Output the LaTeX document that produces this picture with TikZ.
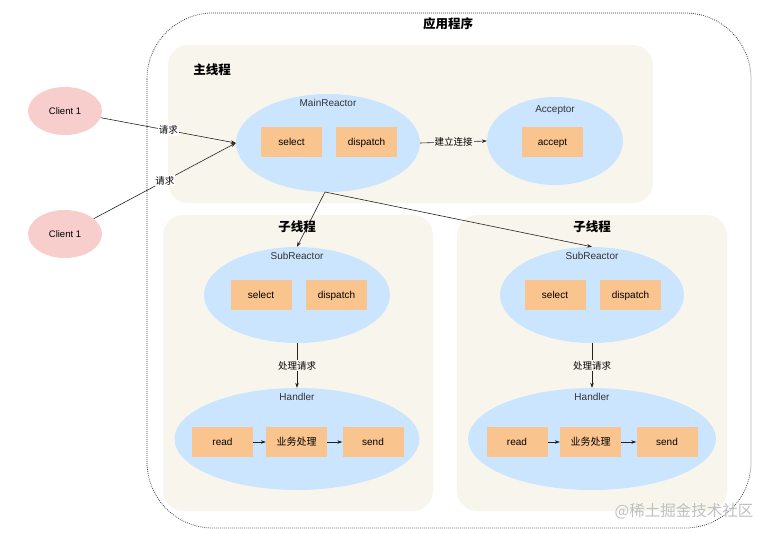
\documentclass[tikz,border=0pt]{standalone}
\usepackage{fontspec}
\setmainfont{Liberation Sans}
\newfontfamily\cjk{Noto Sans CJK SC}
\usetikzlibrary{arrows.meta,shapes.geometric}
\definecolor{beige}{HTML}{F8F6EC}
\definecolor{pinkc}{HTML}{F8CECC}
\definecolor{bluec}{HTML}{CCE5FF}
\definecolor{orangec}{HTML}{FAC48F}
\definecolor{txt}{HTML}{222222}
\definecolor{captxt}{HTML}{333333}
\tikzset{
  area/.style={fill=beige, draw=none, rounded corners=20pt},
  client/.style={ellipse, fill=pinkc, draw=none, minimum width=74pt, minimum height=48pt, inner sep=0pt, font=\fontsize{9.5}{11}\selectfont, text height=8pt, text depth=1pt},
  reactor/.style={ellipse, fill=bluec, draw=none, inner sep=0pt},
  opbox/.style={rectangle, fill=orangec, draw=none, minimum width=61pt, minimum height=30pt, inner sep=0pt, font=\fontsize{10}{12}\selectfont, text height=8.5pt, text depth=1pt},
  caplbl/.style={font=\fontsize{10}{12}\selectfont, text=captxt, inner sep=0pt},
  title/.style={font=\cjk\bfseries\fontsize{12.5}{14}\selectfont, inner sep=0pt},
  conn/.style={draw=txt, line width=0.6pt, -{Stealth[length=5pt,width=3.5pt]}},
  elabel/.style={font=\cjk\fontsize{9.5}{11}\selectfont, inner sep=1pt},
}
\begin{document}
\begin{tikzpicture}[x=1pt,y=-1pt]
\useasboundingbox (0,0) rectangle (774,536);
% outer container
\draw[dash pattern=on 0.8pt off 1.2pt, draw=black!80, line width=0.75pt, rounded corners=66pt] (147,13) rectangle (751,528);
\node[title] (apptitle) at (448,24) {应用程序};
% thread areas
\fill[area] (168,45) rectangle (653,203);
\fill[area] (163,215) rectangle (433,511);
\fill[area] (457,215) rectangle (727,511);
\node[title] (maintitle) at (212,70) {主线程};
\node[title] (subtitleL) at (297,227) {子线程};
\node[title] (subtitleR) at (592,227) {子线程};
% clients
\node[client] (c1) at (65,111) {Client 1};
\node[client] (c2) at (65,234) {Client 1};
% main reactor
\node[reactor, minimum width=184pt, minimum height=98pt] (main) at (328,143) {};
\node[caplbl] (mainlbl) at (328,103) {MainReactor};
\node[opbox] (msel) at (291.5,142) {select};
\node[opbox] (mdis) at (366.5,142) {dispatch};
% acceptor
\node[reactor, minimum width=136pt, minimum height=88pt] (acc) at (555,141) {};
\node[caplbl] (acclbl) at (555,110) {Acceptor};
\node[opbox] (acpt) at (552.5,142) {accept};
% left sub
\node[reactor, minimum width=186pt, minimum height=96pt] (subL) at (297,295) {};
\node[caplbl] (subLlbl) at (297,256) {SubReactor};
\node[opbox] (sselL) at (261,295) {select};
\node[opbox] (sdisL) at (336.5,295) {dispatch};
\node[reactor, minimum width=245pt, minimum height=102pt] (hL) at (297,439) {};
\node[caplbl] (hLlbl) at (297,397) {Handler};
\node[opbox] (readL) at (222.5,442) {read};
\node[opbox, font=\cjk\fontsize{10}{12}\selectfont] (bizL) at (296.5,442) {业务处理};
\node[opbox] (sendL) at (373,442) {send};
% right sub
\node[reactor, minimum width=184pt, minimum height=96pt] (subR) at (592,295) {};
\node[caplbl] (subRlbl) at (592,256) {SubReactor};
\node[opbox] (sselR) at (555,295) {select};
\node[opbox] (sdisR) at (630.5,295) {dispatch};
\node[reactor, minimum width=248pt, minimum height=102pt] (hR) at (592,439) {};
\node[caplbl] (hRlbl) at (592,397) {Handler};
\node[opbox] (readR) at (517,442) {read};
\node[opbox, font=\cjk\fontsize{10}{12}\selectfont] (bizR) at (590.5,442) {业务处理};
\node[opbox] (sendR) at (667,442) {send};
% connectors
\draw[conn] (c1) -- node[elabel, fill=white] {请求} (main.west);
\draw[conn] (c2) -- node[elabel, fill=white] {请求} (main.west);
\draw[conn] (main.east) -- node[elabel, fill=beige] {建立连接} (acc.west);
\coordinate (mbot) at (325,192);
\draw[conn] (mbot) -- (subL.north);
\draw[conn] (mbot) -- (subR.north);
\draw[conn] (subL.south) -- node[elabel, fill=beige] {处理请求} (hL.north);
\draw[conn] (subR.south) -- node[elabel, fill=beige] {处理请求} (hR.north);
\draw[conn] (readL) -- (bizL);
\draw[conn] (bizL) -- (sendL);
\draw[conn] (readR) -- (bizR);
\draw[conn] (bizR) -- (sendR);
% watermark
\node[font=\cjk\fontsize{15.5}{17}\selectfont, text=black!25, inner sep=0pt] (wm) at (684,511) {@稀土掘金技术社区};
\end{tikzpicture}
\end{document}
